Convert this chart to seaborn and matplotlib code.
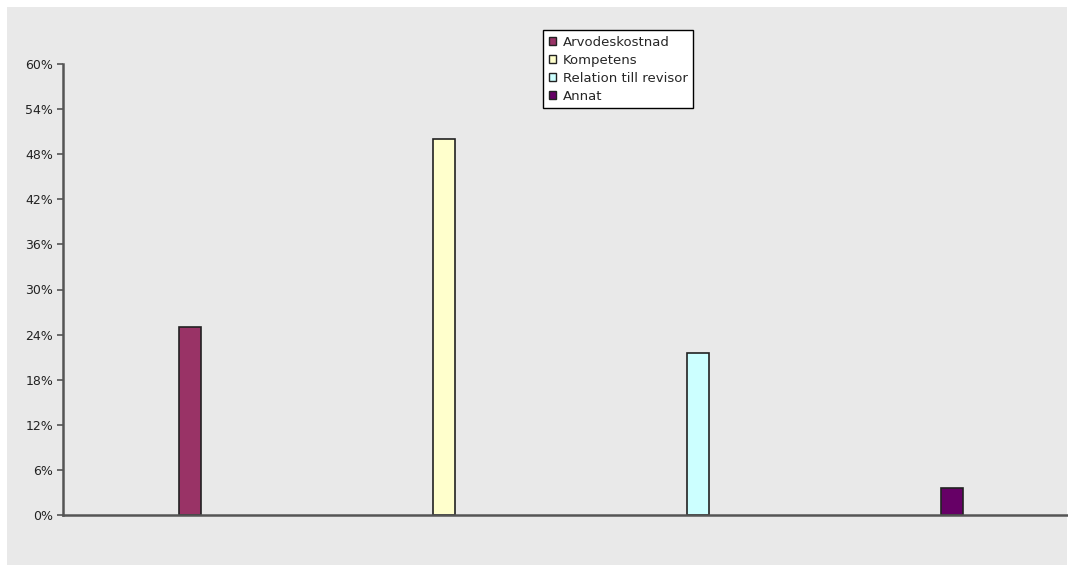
import matplotlib
matplotlib.use("Agg")
import matplotlib.pyplot as plt
from matplotlib.patches import Rectangle
from matplotlib.ticker import FuncFormatter
import seaborn as sns
import pandas as pd

categories = ["Arvodeskostnad", "Kompetens", "Relation till revisor", "Annat"]
shares = [25.0, 50.0, 21.5, 3.6]
colors = ["#993366", "#FFFFCC", "#CCFFFF", "#660066"]
yticks = [0, 6, 12, 18, 24, 30, 36, 42, 48, 54, 60]

df = pd.DataFrame({"svar": categories, "andel": shares})

sns.set_style("white")
plt.rcParams["font.family"] = ["DejaVu Sans"]

W, H = 1068, 565
fig = plt.figure(figsize=(W / 100, H / 100), dpi=100, facecolor="white")
bg = "#E9E9E9"
fig.patches.append(Rectangle((7 / W, 0), (1067 - 7) / W, (565 - 7) / H,
                             transform=fig.transFigure, facecolor=bg,
                             edgecolor="none", zorder=-5))

ax = fig.add_axes([63 / W, (H - 515) / H, (1068 - 63) / W, 451 / H])
ax.set_facecolor("none")

sns.barplot(data=df, x="svar", y="andel", hue="svar", palette=colors,
            width=0.087, dodge=False, legend=False, ax=ax,
            edgecolor="#222222", linewidth=1.2, saturation=1)

ax.set_xlim(-0.5, 3.457)
ax.set_ylim(0, 60)
ax.set_yticks(yticks)
ax.yaxis.set_major_formatter(FuncFormatter(lambda v, p: f"{int(v)}%"))
ax.set_xticks([])
ax.set_xlabel("")
ax.set_ylabel("")
ax.tick_params(axis="y", direction="out", length=4, width=1.2,
               color="#555555", labelsize=9, labelcolor="#222222", pad=3,
               left=True)

for side in ("top", "right"):
    ax.spines[side].set_visible(False)
for side in ("left", "bottom"):
    ax.spines[side].set_color("#555555")
    ax.spines[side].set_linewidth(1.8)

handles = [Rectangle((0, 0), 1, 1, facecolor=c, edgecolor="#222222", linewidth=1)
           for c in colors]
leg = fig.legend(handles, categories, loc="upper left",
                 bbox_to_anchor=(543 / W, 1 - 30 / H), fontsize=9.5,
                 frameon=True, fancybox=False, framealpha=1,
                 edgecolor="#000000", facecolor="white",
                 handlelength=0.6, handleheight=0.6, handletextpad=0.5,
                 labelspacing=0.38, borderpad=0.42, borderaxespad=0)
leg.get_frame().set_linewidth(1.0)

fig.savefig("out.png", dpi=100, facecolor="white")
